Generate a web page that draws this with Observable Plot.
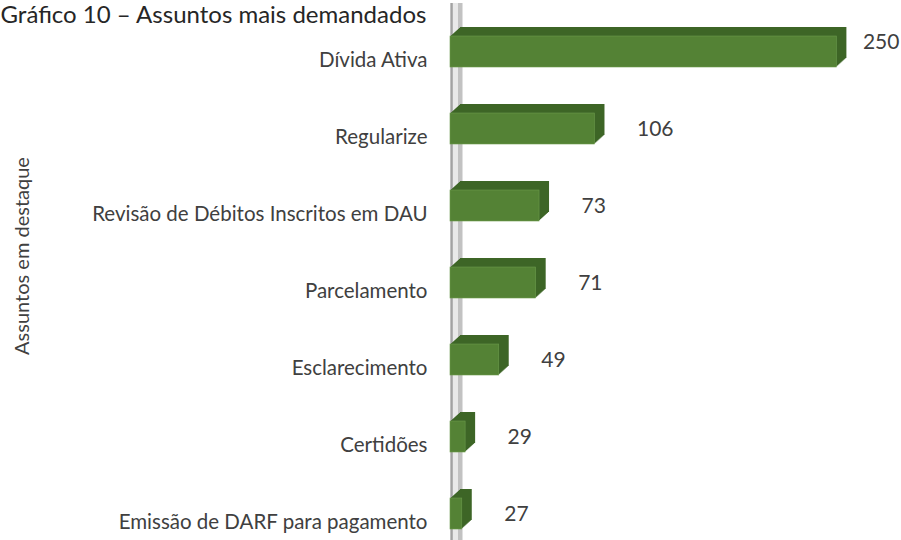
<!DOCTYPE html>
<html>
<head>
<meta charset="utf-8">
<script src="https://cdn.jsdelivr.net/npm/d3@7"></script>
<script src="https://cdn.jsdelivr.net/npm/@observablehq/plot@0.6"></script>
<style>
  html, body { margin: 0; padding: 0; background: #fff; }
  #chart { position: relative; width: 901px; height: 540px; overflow: hidden; }
</style>
</head>
<body>
<div id="chart"></div>
<script>
const titleText = "Gráfico 10 – Assuntos mais demandados";
const axisTitle = "Assuntos em destaque";
const categories = [
  "Dívida Ativa",
  "Regularize",
  "Revisão de Débitos Inscritos em DAU",
  "Parcelamento",
  "Esclarecimento",
  "Certidões",
  "Emissão de DARF para pagamento"
];
const values = [250, 106, 73, 71, 49, 29, 27];
const xBase = 20;

const data = categories.map((c, i) => ({category: c, value: values[i]}));
const maxVal = d3.max(values);

const font = "Lato, 'Open Sans', sans-serif";
const depth = 10;
const extrusion = d3.range(1, depth + 1).map(i =>
  Plot.barX(data, {y: "category", x1: xBase, x2: "value", fill: "#3d6526", dx: i, dy: -0.9 * i})
);
const wall = {insetTop: -25, insetBottom: -3};

const plot = Plot.plot({
  width: 901,
  height: 540,
  marginLeft: 450,
  marginRight: 31,
  marginTop: 28,
  marginBottom: 3,
  style: {fontFamily: font, background: "#fff"},
  x: {domain: [xBase, 270], axis: null},
  y: {domain: categories, paddingInner: 0.6, paddingOuter: 0.1, label: null},
  marks: [
    Plot.ruleX([xBase], {stroke: "#c2c2c2", strokeWidth: 12, dx: 6, ...wall}),
    Plot.ruleX([xBase], {stroke: "#e9e9e9", strokeWidth: 5, dx: 5, ...wall}),
    Plot.ruleX([xBase], {stroke: "#a2a2a2", strokeWidth: 2, dx: 1, ...wall}),
    ...extrusion,
    Plot.barX(data, {y: "category", x1: xBase, x2: "value", fill: "#548235", stroke: "#6b9a4c", strokeWidth: 0.6}),
    Plot.axisY({tickSize: 0, tickPadding: 23, fontSize: 20.5, dy: 8, fill: "#404040", label: null}),
    Plot.text(data.filter(d => d.value !== maxVal), {y: "category", x: "value", text: d => String(d.value), textAnchor: "start", dx: 42, fontSize: 21, fill: "#404040"}),
    Plot.text(data.filter(d => d.value === maxVal), {y: "category", x: "value", text: d => String(d.value), textAnchor: "start", dx: 26, dy: -10, fontSize: 21, fill: "#404040"}),
    Plot.text([axisTitle], {text: d => d, frameAnchor: "left", dx: -422, dy: -27, rotate: -90, textAnchor: "middle", lineAnchor: "bottom", fontSize: 20, fill: "#404040"}),
    Plot.text([titleText], {text: d => d, frameAnchor: "top-left", dx: -450, dy: -6, textAnchor: "start", lineAnchor: "bottom", fontSize: 24, fill: "#262626"})
  ]
});
plot.style.overflow = "visible";
document.getElementById("chart").appendChild(plot);
</script>
</body>
</html>
